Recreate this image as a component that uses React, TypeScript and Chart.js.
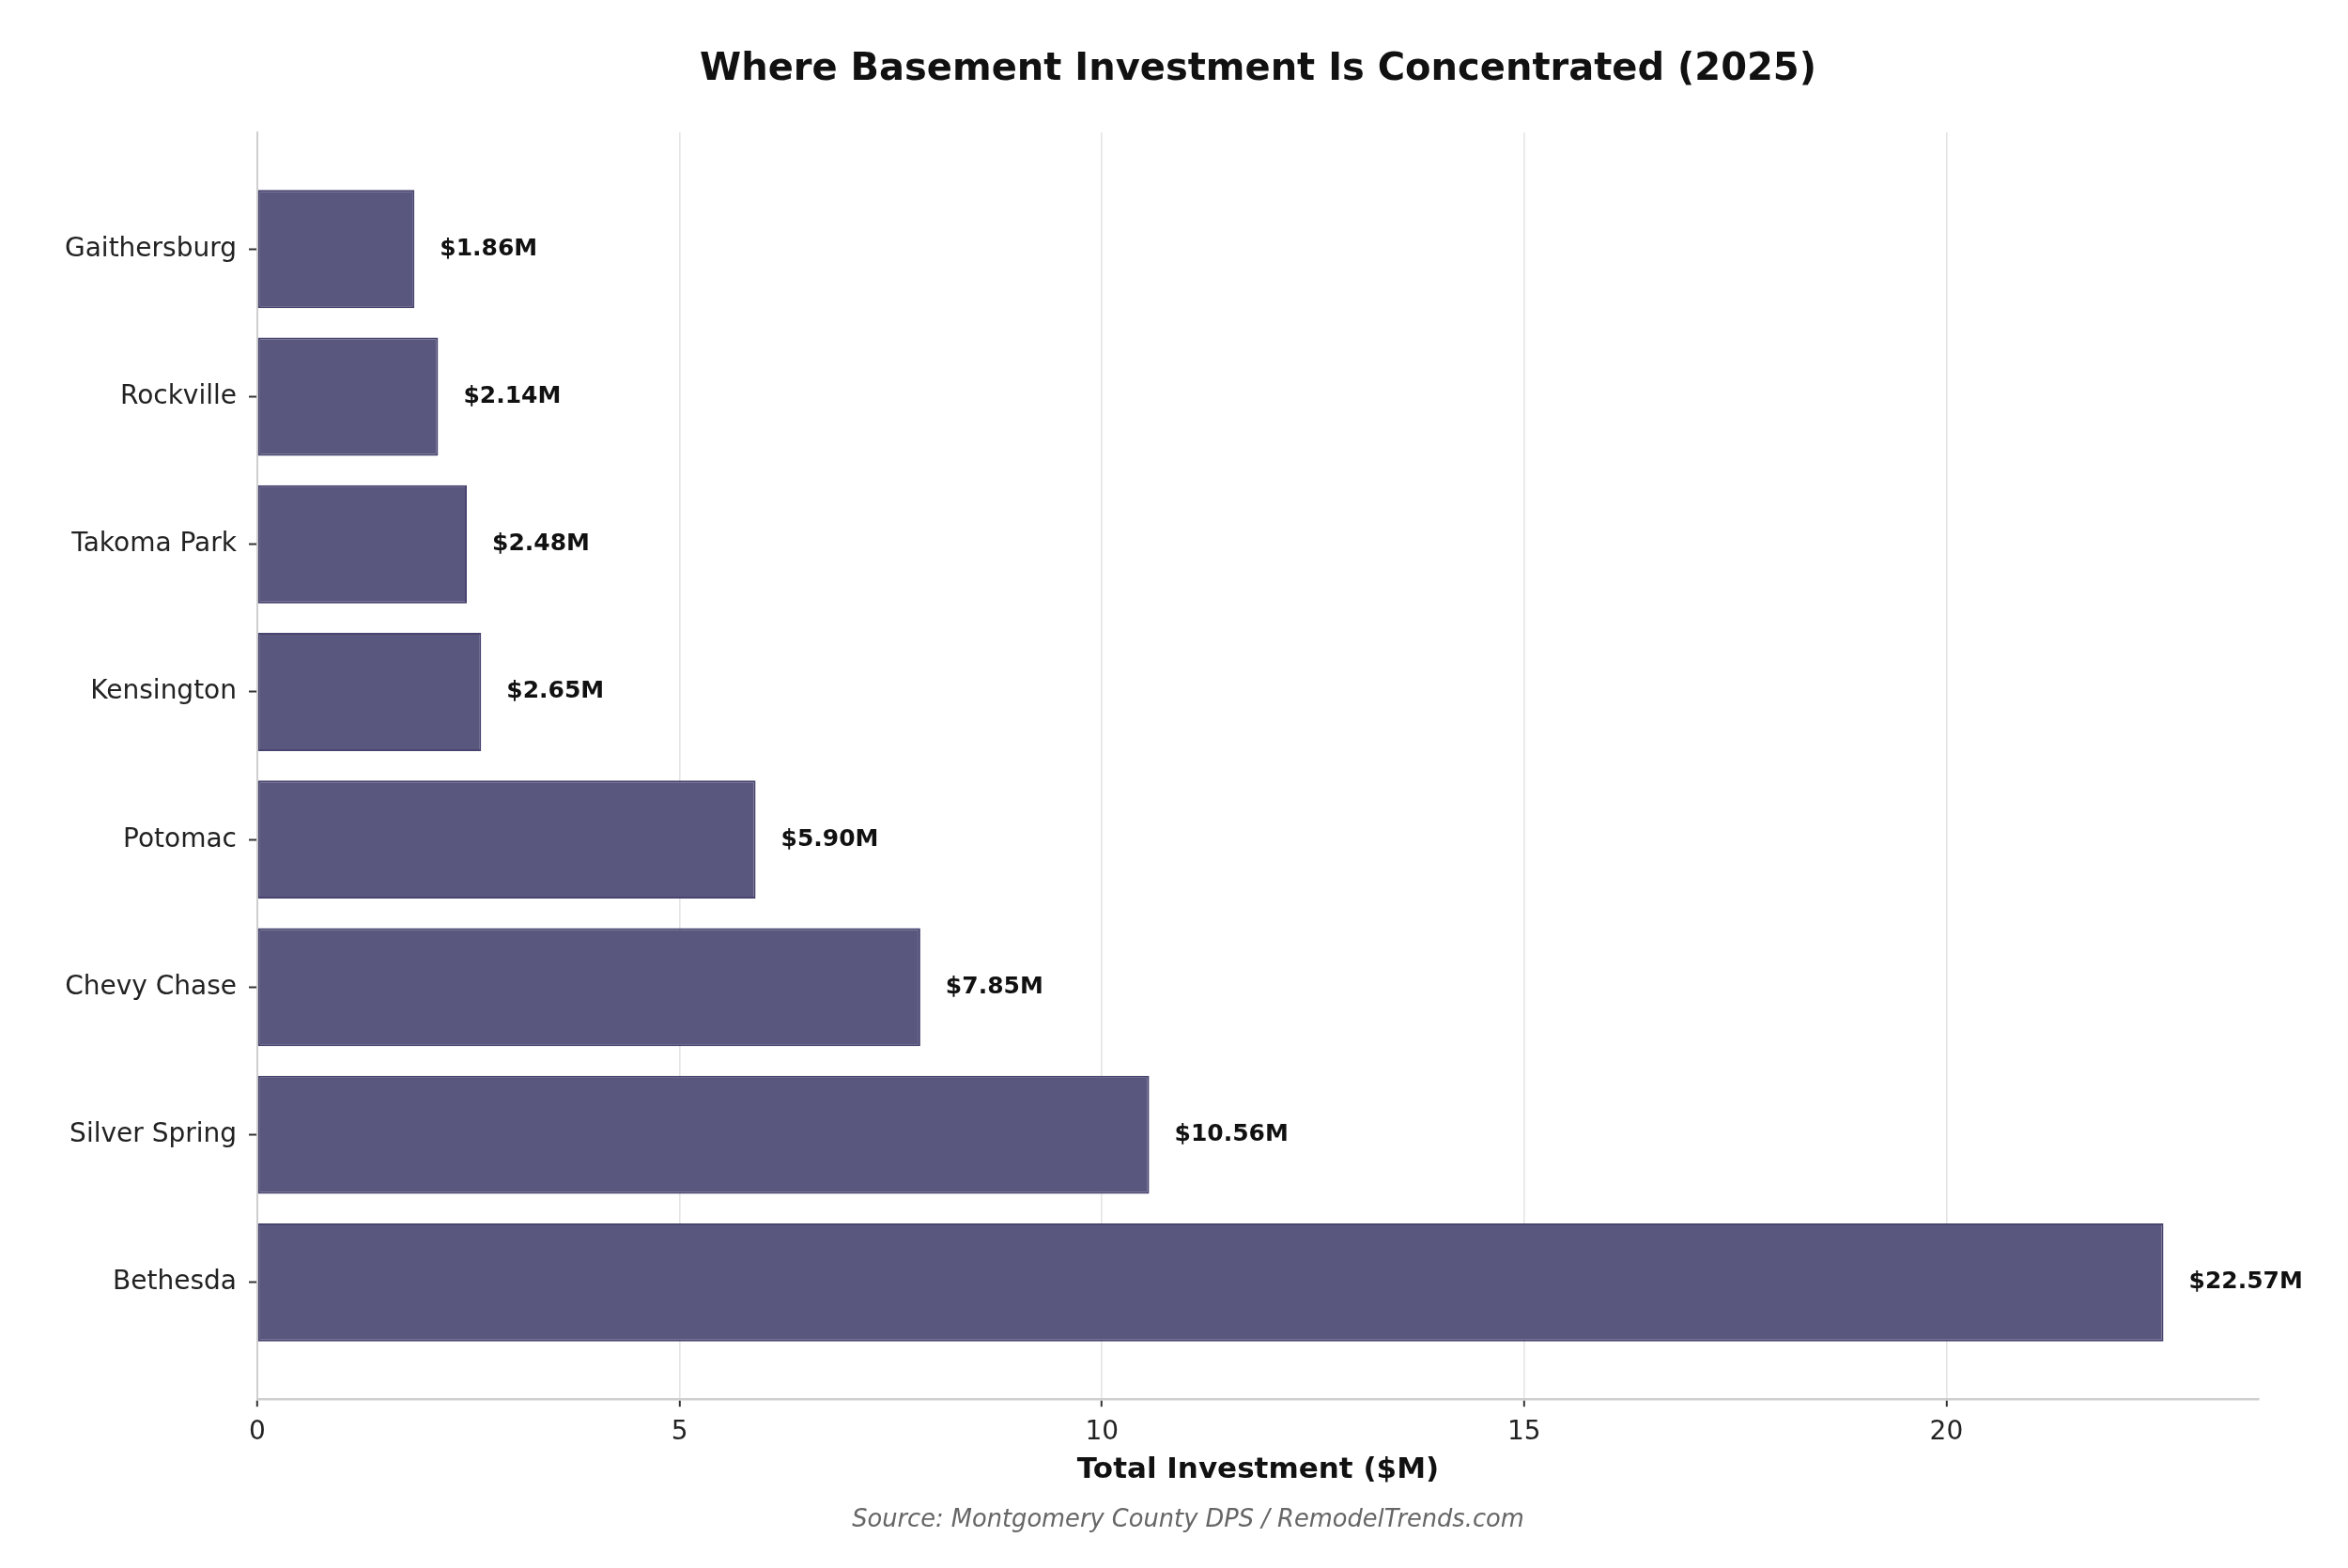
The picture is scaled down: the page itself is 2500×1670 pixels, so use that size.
import React, { useEffect, useRef } from "react";
import { Chart, registerables } from "chart.js";

Chart.register(...registerables);

const categories = [
  "Bethesda",
  "Silver Spring",
  "Chevy Chase",
  "Potomac",
  "Kensington",
  "Takoma Park",
  "Rockville",
  "Gaithersburg",
];
const investment = [22.57, 10.56, 7.85, 5.9, 2.65, 2.48, 2.14, 1.86];
const xTicks = [0, 5, 10, 15, 20];

const TITLE = "Where Basement Investment Is Concentrated (2025)";
const X_TITLE = "Total Investment ($M)";
const SOURCE = "Source: Montgomery County DPS / RemodelTrends.com";
const FONT = "'DejaVu Sans', 'Liberation Sans', sans-serif";

export default function App() {
  const ref = useRef<HTMLCanvasElement | null>(null);

  useEffect(() => {
    if (!ref.current) return;
    const xMax = Math.max(...investment) * 1.05;
    const n = categories.length;
    const yPad = ((n - 1) + 0.8) * 0.05 + 0.4;

    const labelPlugin = {
      id: "valueLabels",
      afterDatasetsDraw(chart: any) {
        const ctx = chart.ctx;
        const meta = chart.getDatasetMeta(0);
        const xs = chart.scales.x;
        ctx.save();
        ctx.font = `bold 25px ${FONT}`;
        ctx.fillStyle = "#111111";
        ctx.textAlign = "left";
        ctx.textBaseline = "middle";
        meta.data.forEach((bar: any, i: number) => {
          const v = investment[i];
          ctx.fillText(`$${v.toFixed(2)}M`, xs.getPixelForValue(v + 0.3), bar.y);
        });
        ctx.restore();
      },
      afterDraw(chart: any) {
        const ctx = chart.ctx;
        ctx.save();
        ctx.font = `italic 25.7px ${FONT}`;
        ctx.fillStyle = "#666666";
        ctx.textAlign = "center";
        ctx.textBaseline = "middle";
        ctx.fillText(SOURCE, 1265, 1619);
        ctx.restore();
      },
    };

    const chart = new Chart(ref.current, {
      type: "bar",
      data: {
        datasets: [
          {
            data: investment.map((v, i) => ({ x: v, y: i })),
            backgroundColor: "#5a577f",
            borderColor: "#47446f",
            borderWidth: 2,
            borderSkipped: false,
            categoryPercentage: 1,
            barPercentage: 0.8,
          },
        ],
      },
      options: {
        indexAxis: "y",
        animation: false,
        responsive: false,
        devicePixelRatio: 1,
        layout: { padding: { left: 0, right: 95, top: 0, bottom: 85 } },
        plugins: {
          legend: { display: false },
          tooltip: { enabled: false },
          title: {
            display: true,
            text: TITLE,
            fullSize: false,
            color: "#111111",
            font: { family: FONT, size: 40, weight: "bold", lineHeight: 1.2 },
            padding: { top: 51, bottom: 42 },
          },
        },
        scales: {
          x: {
            type: "linear",
            min: 0,
            max: xMax,
            z: 1,
            offset: false,
            afterBuildTicks: (axis: any) => {
              axis.ticks = xTicks.map((v) => ({ value: v }));
            },
            grid: {
              offset: false,
              color: "rgba(175,175,175,0.32)",
              lineWidth: 1.6,
              drawTicks: true,
              tickColor: "#333333",
              tickLength: 8,
              tickWidth: 2,
            },
            border: { display: true, color: "#cfcfcf", width: 2.5 },
            ticks: {
              color: "#222222",
              padding: 11,
              font: { family: FONT, size: 28 },
              callback: (v: any) => String(v),
            },
            title: {
              display: true,
              text: X_TITLE,
              color: "#111111",
              font: { family: FONT, size: 31, weight: "bold", lineHeight: 1.2 },
              padding: { top: -6, bottom: 0 },
            },
          },
          y: {
            type: "linear",
            min: -yPad,
            max: n - 1 + yPad,
            offset: false,
            afterBuildTicks: (axis: any) => {
              axis.ticks = categories.map((_, i) => ({ value: i }));
            },
            afterFit: (scale: any) => {
              scale.width = 274;
            },
            grid: {
              offset: false,
              drawOnChartArea: false,
              drawTicks: true,
              tickColor: "#333333",
              tickLength: 9,
              tickWidth: 2,
            },
            border: { display: true, color: "#cfcfcf", width: 2 },
            ticks: {
              color: "#222222",
              padding: 13,
              font: { family: FONT, size: 28 },
              callback: (v: any) => categories[Math.round(Number(v))] ?? "",
            },
          },
        },
      },
      plugins: [labelPlugin],
    } as any);

    return () => chart.destroy();
  }, []);

  return (
    <div style={{ position: "absolute", left: 0, top: 0, width: 2500, height: 1670, background: "#ffffff" }}>
      <canvas ref={ref} width={2500} height={1670} style={{ width: 2500, height: 1670, display: "block" }} />
    </div>
  );
}
